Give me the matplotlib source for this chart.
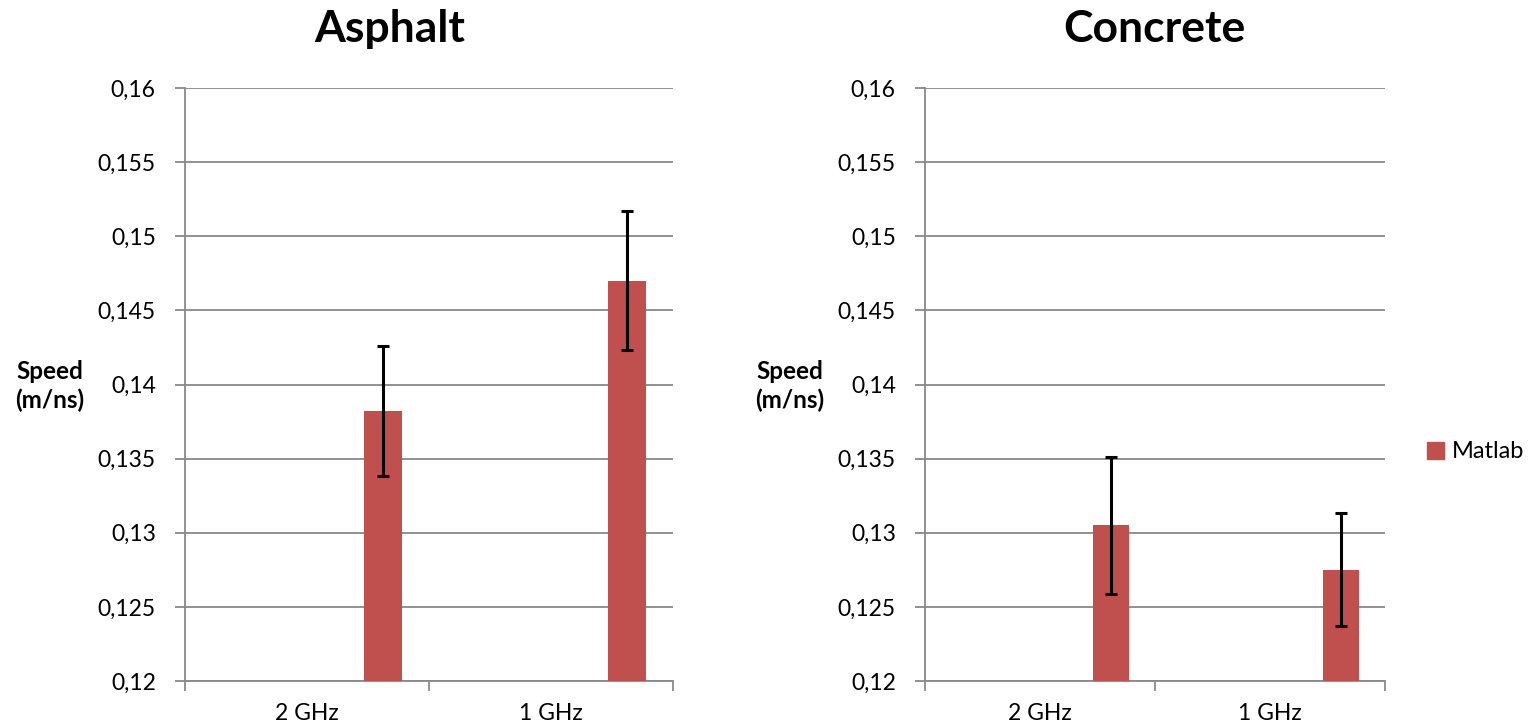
import matplotlib
matplotlib.use("Agg")
import matplotlib.pyplot as plt
import numpy as np
from matplotlib.patches import Patch

plt.rcParams['font.family'] = ['Lato', 'DejaVu Sans']

categories = ["2 GHz", "1 GHz"]
asphalt_values = [0.1382, 0.1470]
asphalt_errors = [0.0044, 0.0047]
concrete_values = [0.1305, 0.1275]
concrete_errors = [0.0046, 0.0038]
y_ticks = [0.12, 0.125, 0.13, 0.135, 0.14, 0.145, 0.15, 0.155, 0.16]
y_tick_labels = ["0,12", "0,125", "0,13", "0,135", "0,14", "0,145", "0,15", "0,155", "0,16"]
series_name = "Matlab"
titles = ["Asphalt", "Concrete"]
y_label = "Speed\n(m/ns)"

bar_color = "#C0504D"
grid_color = "#898989"

fig = plt.figure(figsize=(15.38, 7.28), dpi=100)
ax1 = fig.add_axes([185/1538, 47/728, 488/1538, 593/728])
ax2 = fig.add_axes([925/1538, 47/728, 460/1538, 593/728])

def draw(ax, values, errors):
    centers = np.arange(len(categories)) + 0.5
    ax.bar(centers + 0.31, values, width=0.156, color=bar_color, zorder=3,
           yerr=errors, error_kw=dict(ecolor="black", elinewidth=2.2, capsize=4.5, capthick=2.2, zorder=4))
    ax.set_xlim(0, len(categories))
    ax.set_ylim(0.12, 0.16)
    ax.set_yticks(y_ticks)
    ax.set_yticklabels(y_tick_labels, fontsize=16.5)
    ax.yaxis.grid(True, color=grid_color, linewidth=1.3, zorder=0)
    ax.set_axisbelow(True)
    ax.set_xticks(np.arange(len(categories) + 1))
    ax.set_xticklabels([])
    ax.set_xticks(centers, minor=True)
    ax.set_xticklabels(categories, minor=True, fontsize=16.5)
    ax.tick_params(axis='x', which='minor', length=0, pad=16)
    ax.tick_params(axis='x', which='major', length=7, width=1.3, color=grid_color)
    ax.tick_params(axis='y', length=7, width=1.3, color=grid_color, pad=14)
    for s in ['top', 'right']:
        ax.spines[s].set_visible(False)
    for s in ['left', 'bottom']:
        ax.spines[s].set_color(grid_color)
        ax.spines[s].set_linewidth(1.3)

draw(ax1, asphalt_values, asphalt_errors)
draw(ax2, concrete_values, concrete_errors)

fig.text(390/1538, 1 - 29/728, titles[0], fontsize=32, fontweight='bold', ha='center', va='center')
fig.text(1154/1538, 1 - 29/728, titles[1], fontsize=32, fontweight='bold', ha='center', va='center')
fig.text(50/1538, 1 - 386/728, y_label, fontsize=17.5, fontweight='bold', ha='center', va='center', linespacing=1.25)
fig.text(790/1538, 1 - 386/728, y_label, fontsize=17.5, fontweight='bold', ha='center', va='center', linespacing=1.25)

fig.legend(handles=[Patch(color=bar_color, label=series_name)], loc='center left',
           bbox_to_anchor=(1406/1538, 1 - 452/728), frameon=False, fontsize=17,
           handlelength=0.7, handleheight=0.7, handletextpad=0.35)

fig.savefig("out.png", dpi=100)
